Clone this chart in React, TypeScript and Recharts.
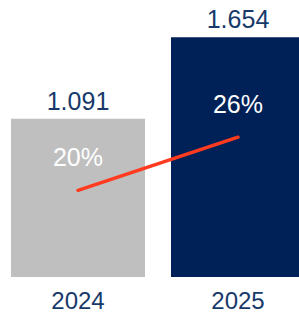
import { ComposedChart, Bar, Line, XAxis, YAxis, LabelList, Cell } from "recharts";

const years = ["2024", "2025"];
const volumes = [1091, 1654];
const shares = [20, 26];
const barColors = ["#BFBFBF", "#002157"];

const data = years.map((year, i) => ({ year, volume: volumes[i], share: shares[i] }));

const textColor = "#17396A";
const font = "'Liberation Sans', Arial, sans-serif";

export default function App() {
  return (
    <div style={{ position: "absolute", left: 0, top: 0, width: 299, height: 315, overflow: "hidden", background: "#fff" }}>
      <div style={{ position: "relative", left: -2 }}>
        <ComposedChart width={320} height={315} data={data} margin={{ top: 16, right: 0, bottom: 0, left: 0 }}>
          <XAxis
            dataKey="year"
            axisLine={false}
            tickLine={false}
            tickSize={0}
            tickMargin={15}
            height={38}
            tick={{ fill: textColor, fontSize: 24, fontFamily: font }}
          />
          <YAxis yAxisId="left" hide domain={[0, 1800]} />
          <YAxis yAxisId="right" hide orientation="right" domain={[10.2, 39.7]} />
          <Bar yAxisId="left" dataKey="volume" barSize={134} isAnimationActive={false}>
            {data.map((d, i) => (
              <Cell key={d.year} fill={barColors[i]} />
            ))}
            <LabelList
              dataKey="volume"
              position="top"
              offset={9}
              fill={textColor}
              fontSize={25}
              fontFamily={font}
              formatter={(v: number) => v.toLocaleString("de-DE")}
            />
          </Bar>
          <Line
            yAxisId="right"
            dataKey="share"
            stroke="#FF3B1F"
            strokeWidth={3.5}
            strokeLinecap="round"
            dot={false}
            activeDot={false}
            isAnimationActive={false}
          >
            <LabelList
              dataKey="share"
              position="top"
              offset={24}
              fill="#FFFFFF"
              fontSize={25}
              fontFamily={font}
              formatter={(v: number) => `${v}%`}
            />
          </Line>
        </ComposedChart>
      </div>
    </div>
  );
}
